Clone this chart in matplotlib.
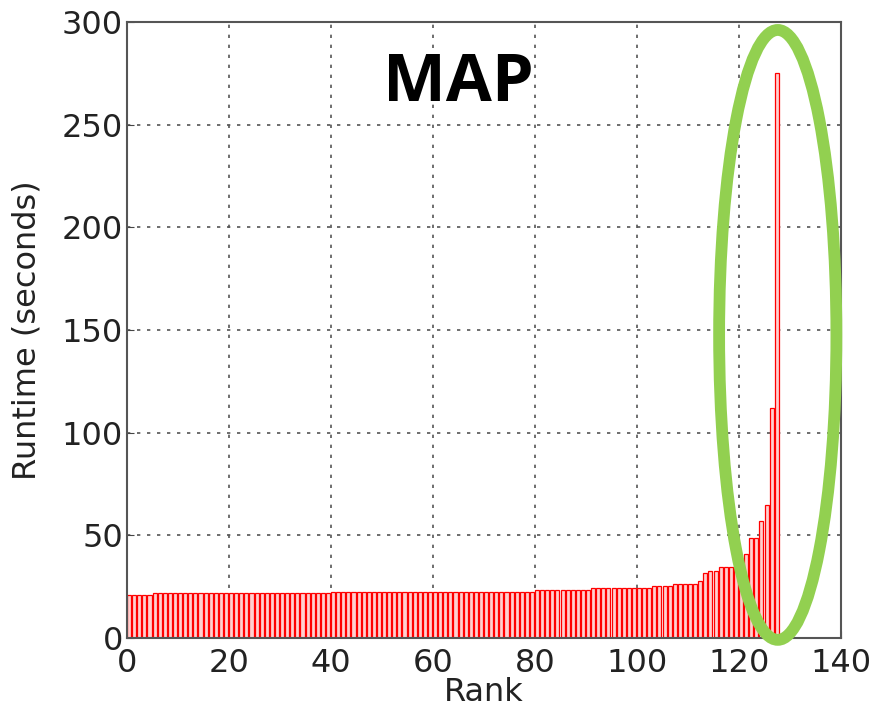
import numpy as np
import matplotlib
matplotlib.use('Agg')
import matplotlib.pyplot as plt
from matplotlib.patches import Ellipse

# runtime per rank, grouped as (value, how many ranks)
levels = [21.0, 21.8, 22.5, 23.3, 24.3, 25.3, 26.3, 27.8, 31.5, 32.5,
          34.5, 35.0, 40.7, 48.5, 57.0, 65.0, 112.0, 275.0]
counts = [5, 35, 40, 11, 12, 4, 5, 1, 1, 2,
          3, 2, 1, 2, 1, 1, 1, 1]
runtime = np.repeat(levels, counts)
rank = np.arange(len(runtime))

x_ticks = [0, 20, 40, 60, 80, 100, 120, 140]
y_ticks = [0, 50, 100, 150, 200, 250, 300]

fig = plt.figure(figsize=(8.81, 7.13), dpi=100)
ax = fig.add_axes([0.1442, 0.1052, 0.8104, 0.864])

ax.bar(rank, runtime, width=0.8, align='edge', facecolor='#ffd0d0',
       edgecolor='red', linewidth=0.9, zorder=2)

ax.set_xlim(0, 140)
ax.set_ylim(0, 300)
ax.set_xticks(x_ticks)
ax.set_yticks(y_ticks)
ax.grid(True, linestyle=(0, (2, 4)), color='#555555', linewidth=1.2, zorder=0)
ax.set_axisbelow(True)
ax.tick_params(labelsize=23, direction='in', length=5, color='#444444',
               labelcolor='#222222')
ax.tick_params(axis='x', pad=7)
ax.tick_params(axis='y', pad=3)
for s in ax.spines.values():
    s.set_color('#555555')
    s.set_linewidth(1.5)

ax.set_xlabel('Rank', fontsize=23, labelpad=-1, color='#222222')
ax.set_ylabel('Runtime (seconds)', fontsize=23, labelpad=14, color='#222222')

ax.text(65, 270, 'MAP', fontsize=48, fontweight='bold', ha='center', va='center',
        family='Open Sans')

ell = Ellipse((127.6, 147.6), 23, 297, fill=False, edgecolor='#92d050',
              linewidth=8.5, clip_on=False, zorder=5)
ax.add_patch(ell)

fig.savefig('out.png', dpi=100)
